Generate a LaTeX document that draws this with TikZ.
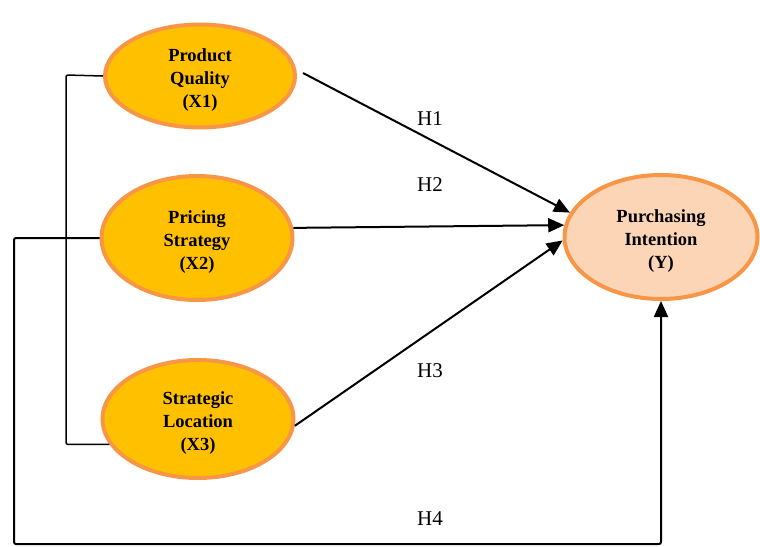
\documentclass[tikz,border=0pt]{standalone}
\usepackage{fontspec}
\setmainfont{Liberation Serif}
\usetikzlibrary{shapes.geometric,arrows.meta,calc}
\definecolor{gold}{HTML}{FFC000}
\definecolor{rim}{HTML}{F79646}
\definecolor{peach}{HTML}{FBD5B5}
% extra head room so three-line labels sit a little lower in the ellipse
\newcommand\headroom{\rule{0pt}{20.5pt}}
\begin{document}
\begin{tikzpicture}[x=1pt,y=-1pt,
  construct/.style={ellipse, draw=rim, line width=4pt, fill=gold, inner sep=0pt,
    align=center, font=\fontsize{18.5}{23}\selectfont\bfseries},
  outcome/.style={construct, fill=peach},
  link/.style={line width=2pt, -{Triangle[length=16pt,width=14pt]}},
  joint/.style={line width=1.5pt, rounded corners=2pt},
  hyp/.style={font=\fontsize{21}{24}\selectfont}]
\useasboundingbox (0,0) rectangle (760,546);

% latent constructs
\node[construct, minimum width=190pt, minimum height=103pt] (x1) at (200,76) {\headroom Product\\Quality\\(X1)};
\node[construct, minimum width=191pt, minimum height=124pt] (x2) at (197,238) {\headroom Pricing\\Strategy\\(X2)};
\node[construct, minimum width=191pt, minimum height=118pt] (x3) at (198,419) {\headroom Strategic\\Location\\(X3)};
\node[outcome, minimum width=193pt, minimum height=124pt] (y) at (661,237) {\headroom Purchasing\\Intention\\(Y)};

% bracket joining X1 and X3
\coordinate (bk) at (66,75);
\draw[joint] (x1.west) -- (bk) |- (x3.196);

% direct paths H1-H3
\coordinate (h1s) at ($(x1.east)+(6,-3)$);
\draw[link] (h1s) -- (y.165);
\draw[link] (x2.6) -- (y.173);
\draw[link] (x3.-4) -- (y.182);

% joint path H4 running round the bottom
\coordinate (h4c) at (14,544);
\draw[link, rounded corners=2pt] (x2.west) -| (h4c) -| (y.south);

% hypothesis labels
\node[hyp] (l1) at (430,119) {H1};
\node[hyp] (l2) at (430,185) {H2};
\node[hyp] (l3) at (430,371) {H3};
\node[hyp] (l4) at (430,519) {H4};
\end{tikzpicture}
\end{document}
